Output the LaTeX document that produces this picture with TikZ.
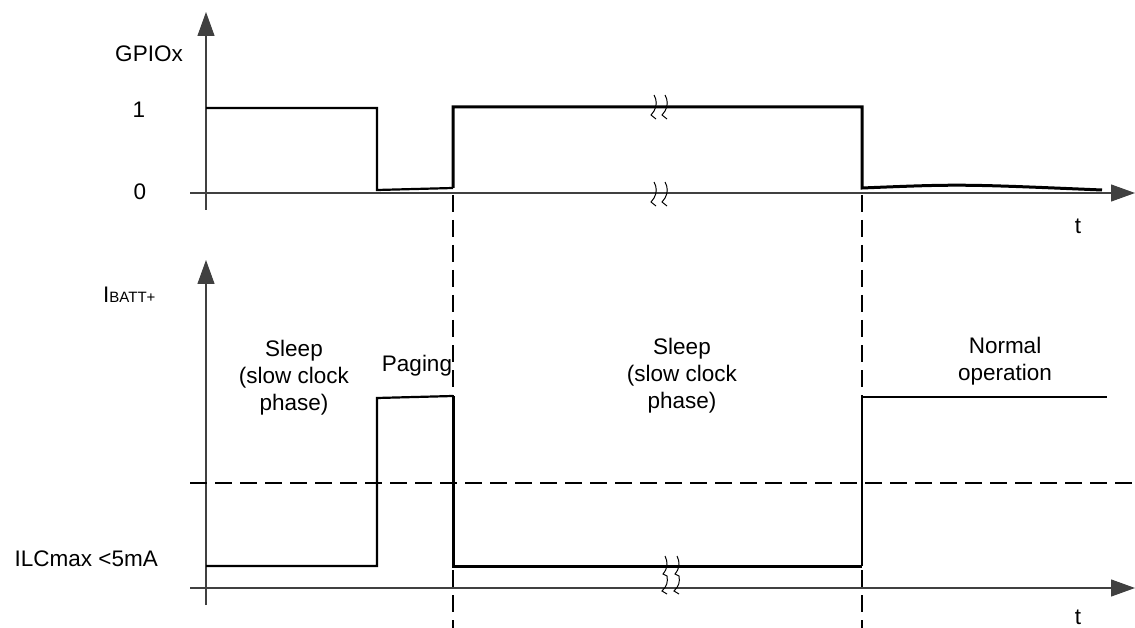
\documentclass[tikz,border=0pt]{standalone}
\usepackage{fontspec}
\setmainfont{Liberation Sans}
\usetikzlibrary{arrows.meta}
\tikzset{
    axis/.style = {
        line width=1.2pt,
        black!75,
        -{Triangle[length=24pt,width=17pt]},
    },
    sig/.style = {
        line width=2.2pt,
        black,
    },
    sigthick/.style = {
        line width=3pt,
        black,
    },
    marker/.style = {
        line width=2pt,
        black,
        dash pattern=on 17pt off 8pt,
    },
    lbl/.style = {
        inner sep=0pt,
        align=center,
        font=\fontsize{22.5}{27}\selectfont,
    },
    brk/.pic = {
        \draw[line width=1pt] (0,-11) .. controls (3,-6) and (3,0) .. (0,5) -- (-3,9) -- (2,13);
    },
    brklong/.pic = {
        \draw[line width=1pt] (0,-22) .. controls (3,-16) and (3,-10) .. (-2,-4) -- (2,-2)
          .. controls (3,4) and (2,8) .. (-3,13) -- (2,16);
    }
}

\begin{document}
\begin{tikzpicture}[x=1pt, y=-1pt]
  \useasboundingbox (0,0) rectangle (1135,628);

  % GPIO axes
  \coordinate (gpioBot) at (206,210);
  \coordinate (gpioTop) at (206,12);
  \coordinate (gpioLeft) at (190,193);
  \coordinate (gpioRight) at (1135,193);
  \draw[axis] (gpioBot) -- (gpioTop);
  \draw[axis] (gpioLeft) -- (gpioRight);

  % current axes
  \coordinate (curBot) at (206,605);
  \coordinate (curTop) at (206,260);
  \coordinate (curLeft) at (190,588);
  \coordinate (curRight) at (1135,588);
  \draw[axis] (curBot) -- (curTop);
  \draw[axis] (curLeft) -- (curRight);

  % labels
  \node[lbl, anchor=base] (gpiolbl) at (149,62) {GPIOx};
  \node[lbl, anchor=base] (one) at (139,118) {1};
  \node[lbl, anchor=base] (zero) at (140,200) {0};
  \node[lbl, anchor=base] (tgpio) at (1078,234) {t};
  \node[lbl, anchor=base west] (ibatt) at (103,302)
    {I\fontsize{15}{18}\selectfont BATT+};
  \node[lbl, anchor=base east] (ilc) at (158,566) {ILCmax <5mA};
  \node[lbl, anchor=base] (tcur) at (1078,624) {t};

  \node[lbl, anchor=north] (sleepA) at (294,340) {Sleep\\(slow clock\\phase)};
  \node[lbl, anchor=north] (paging) at (417,355) {Paging};
  \node[lbl, anchor=north] (sleepB) at (682,338) {Sleep\\(slow clock\\phase)};
  \node[lbl, anchor=north] (normal) at (1005,337) {Normal\\operation};

  % dashed markers
  \coordinate (wakeTop) at (453,195);
  \coordinate (wakeBot) at (453,628);
  \coordinate (normTop) at (862,195);
  \coordinate (normBot) at (862,628);
  \coordinate (limL) at (190,483);
  \coordinate (limR) at (1135,483);
  \draw[marker] (wakeTop) -- (wakeBot);
  \draw[marker] (normTop) -- (normBot);
  \draw[marker] (limL) -- (limR);

  % GPIO signal
  \draw[sig] (206,108) -- (377,108) -- (377,190) -- (453,188);
  \draw[sigthick] (453,188) -- (453,107) -- (862,107) -- (862,188)
    .. controls (960,184) .. (1102,190);

  % current signal
  \draw[sig] (206,566) -- (377,566) -- (377,398) -- (453,396);
  \draw[sigthick] (453,396) -- (453,566) -- (862,566);
  \draw[sig] (862,566) -- (862,397) -- (1107,397);

  % breaks
  \pic at (654,106) {brk};
  \pic at (665,106) {brk};
  \pic at (654,193) {brk};
  \pic at (665,193) {brk};
  \pic at (665,578) {brklong};
  \pic at (677,578) {brklong};
\end{tikzpicture}
\end{document}
